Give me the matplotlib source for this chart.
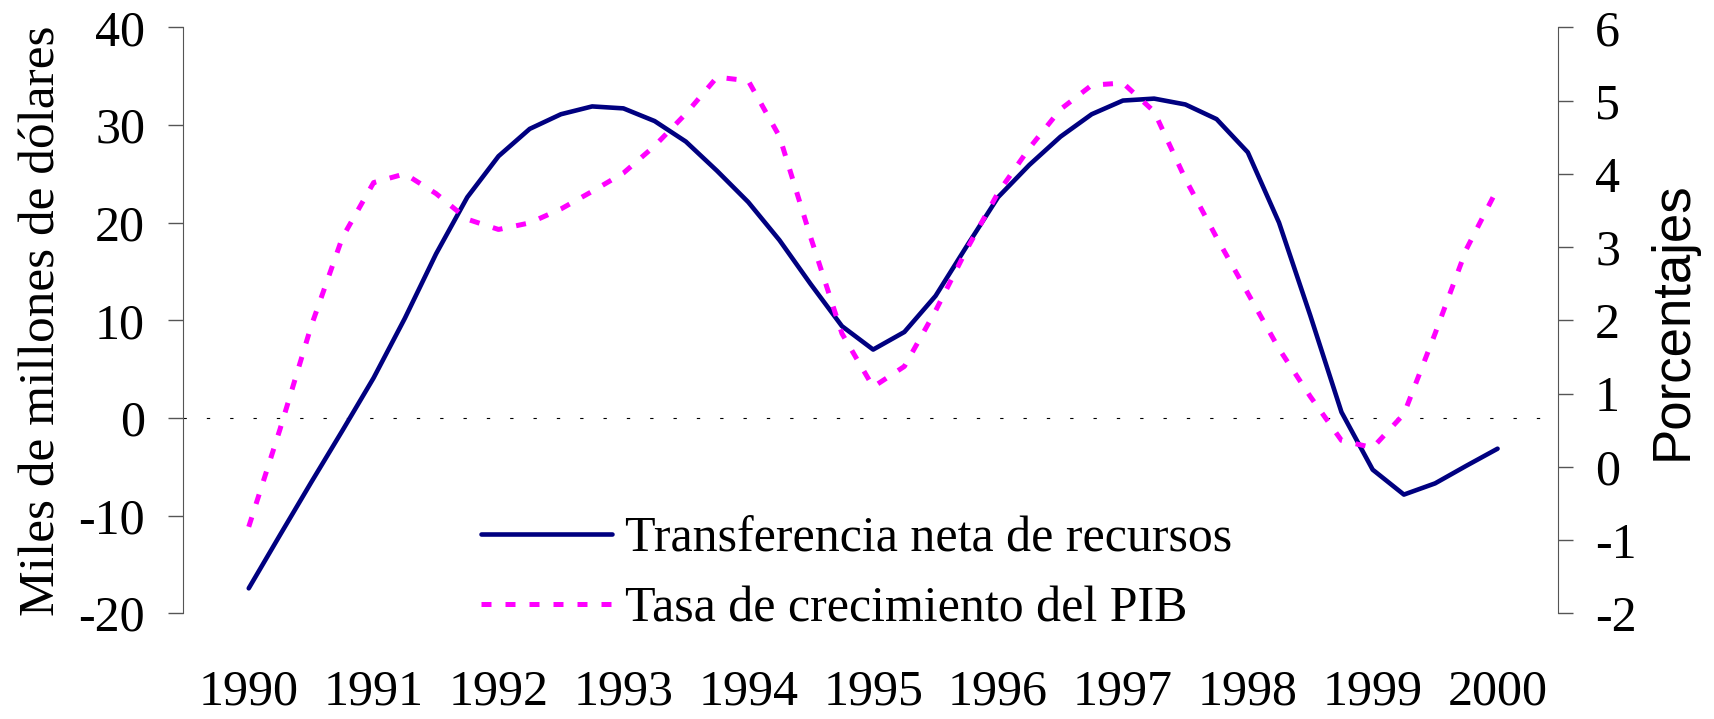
"""Transferencia neta de recursos vs. tasa de crecimiento del PIB, 1990-2000."""

import matplotlib

matplotlib.use("Agg")
import matplotlib.pyplot as plt  # noqa: E402

plt.rcParams["font.family"] = ["Liberation Serif", "DejaVu Serif"]
plt.rcParams["axes.unicode_minus"] = False

# trimestres (eje x)
trimestres = [
    1990.0, 1990.25, 1990.5, 1990.75, 1991.0, 1991.25, 1991.5, 1991.75,
    1992.0, 1992.25, 1992.5, 1992.75, 1993.0, 1993.25, 1993.5, 1993.75,
    1994.0, 1994.25, 1994.5, 1994.75, 1995.0, 1995.25, 1995.5, 1995.75,
    1996.0, 1996.25, 1996.5, 1996.75, 1997.0, 1997.25, 1997.5, 1997.75,
    1998.0, 1998.25, 1998.5, 1998.75, 1999.0, 1999.25, 1999.5, 1999.75,
    2000.0,
]
# miles de millones de dolares (eje izquierdo)
transferencia = [
    -17.45, -12.0, -6.6, -1.3, 4.1, 10.2, 16.8, 22.6,
    26.8, 29.6, 31.1, 31.9, 31.7, 30.4, 28.3, 25.3,
    22.1, 18.2, 13.7, 9.4, 7.0, 8.8, 12.5, 17.6,
    22.6, 25.9, 28.8, 31.1, 32.5, 32.7, 32.1, 30.6,
    27.2, 20.0, 10.5, 0.6, -5.3, -7.85, -6.7, -4.9,
    -3.15,
]
# porcentajes (eje derecho)
pib = [
    -0.82, 0.51, 1.92, 3.13, 3.88, 4.0, 3.73, 3.38,
    3.24, 3.33, 3.52, 3.76, 4.01, 4.38, 4.82, 5.32,
    5.27, 4.51, 3.13, 1.82, 1.09, 1.37, 2.13, 2.97,
    3.74, 4.35, 4.88, 5.21, 5.24, 4.85, 3.93, 3.13,
    2.37, 1.61, 0.96, 0.36, 0.26, 0.72, 1.82, 2.97,
    3.80,
]
anios = [1990, 1991, 1992, 1993, 1994, 1995, 1996, 1997, 1998, 1999, 2000]
ticks_izq = [-20, -10, 0, 10, 20, 30, 40]
ticks_der = [-2, -1, 0, 1, 2, 3, 4, 5, 6]

FS = 36
SPINE = "#555555"

fig = plt.figure(figsize=(17.14, 7.19), dpi=100)
ax = fig.add_axes([0.1065, 0.1471, 0.8022, 0.8149])
ax2 = ax.twinx()

ax.axhline(0, color="black", lw=0.8, ls=(0, (3, 18)), zorder=1)
l1, = ax.plot(trimestres, transferencia, color="#000080", lw=3.3,
              solid_capstyle="round", zorder=3,
              label="Transferencia neta de recursos")
l2, = ax2.plot(trimestres, pib, color="#ff00ff", lw=3.6,
               ls=(0, (2.0, 2.8)), zorder=2,
               label="Tasa de crecimiento del PIB")

ax.set_xlim(1989.47, 2000.48)
ax.set_ylim(-20, 40)
ax2.set_ylim(-2, 6)
ax.set_xticks(anios)
ax.set_xticklabels([str(a) for a in anios], fontsize=FS)
ax.set_yticks(ticks_izq)
ax.set_yticklabels([str(t) for t in ticks_izq], fontsize=FS)
ax2.set_yticks(ticks_der)
ax2.set_yticklabels([str(t) for t in ticks_der], fontsize=FS)

ax.tick_params(axis="x", length=0, pad=40)
ax.tick_params(axis="y", direction="out", length=11, width=1,
               color=SPINE, pad=16)
ax2.tick_params(axis="y", direction="out", length=11, width=1,
                color=SPINE, pad=16)

for s in ("top", "bottom", "right"):
    ax.spines[s].set_visible(False)
for s in ("top", "bottom", "left"):
    ax2.spines[s].set_visible(False)
ax.spines["left"].set_color(SPINE)
ax2.spines["right"].set_color(SPINE)

ax.set_ylabel("Miles de millones de dólares", fontsize=37, labelpad=9)
ax2.set_ylabel("Porcentajes", fontsize=38, labelpad=8,
               family=["Liberation Sans", "DejaVu Sans"])

fig.legend(handles=[l1, l2], loc="upper left",
           bbox_to_anchor=(0.2806, 0.2823), frameon=False, fontsize=FS,
           handlelength=2.62, handletextpad=0.26, labelspacing=0.47,
           borderpad=0, borderaxespad=0)

fig.savefig("out.png", dpi=100)
plt.close(fig)
